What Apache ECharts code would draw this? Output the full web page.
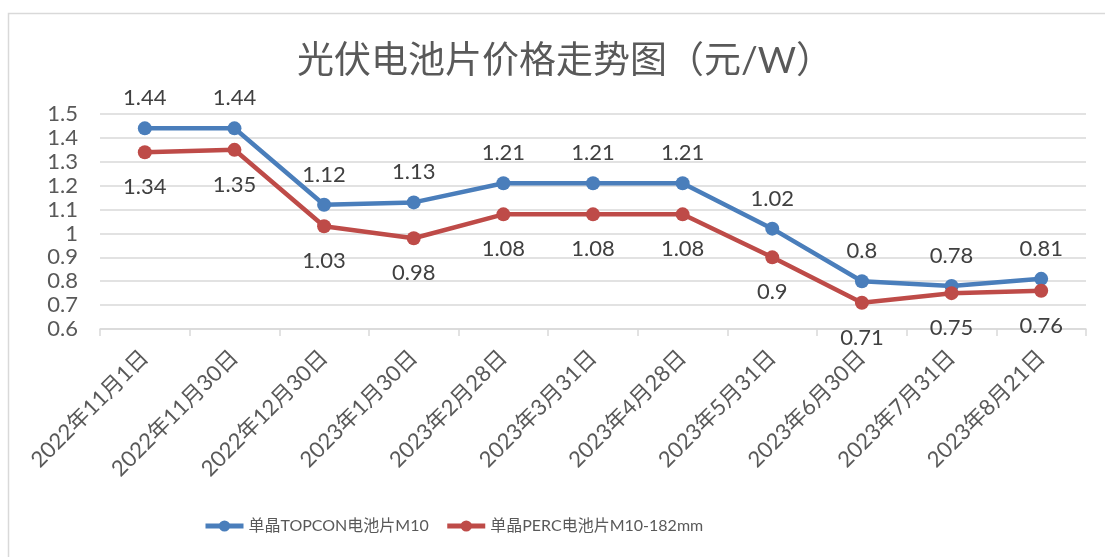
<!DOCTYPE html>
<html>
<head>
<meta charset="utf-8">
<script src="https://cdn.jsdelivr.net/npm/echarts@6/dist/echarts.min.js"></script>
<style>
    html, body {
        margin: 0;
        padding: 0;
        background: #ffffff;
    }

    #chart {
        width: 1105px;
        height: 557px;
    }
</style>
</head>
<body>
<div id="chart"></div>
<script>
const categories = ['2022年11月1日', '2022年11月30日', '2022年12月30日', '2023年1月30日', '2023年2月28日',
    '2023年3月31日', '2023年4月28日', '2023年5月31日', '2023年6月30日', '2023年7月31日', '2023年8月21日'];
const topconValues = [1.44, 1.44, 1.12, 1.13, 1.21, 1.21, 1.21, 1.02, 0.8, 0.78, 0.81];
const percValues = [1.34, 1.35, 1.03, 0.98, 1.08, 1.08, 1.08, 0.9, 0.71, 0.75, 0.76];
const yMin = 0.6;
const yMax = 1.5;
const yStep = 0.1;

const font = "Lato, 'Noto Sans CJK SC', sans-serif";
const chart = echarts.init(document.getElementById('chart'));

const makeSeries = (name, data, color, pos, dist) => ({
    name: name,
    type: 'line',
    data: data,
    symbol: 'circle',
    symbolSize: 14,
    lineStyle: { color: color, width: 4.5 },
    itemStyle: { color: color },
    label: {
        show: true,
        position: pos,
        distance: dist,
        color: '#404040',
        fontSize: 22,
        fontFamily: font
    },
    emphasis: { disabled: true }
});

chart.setOption({
    animation: false,
    textStyle: { fontFamily: font },
    graphic: [{
        type: 'rect',
        shape: { x: 8.5, y: 13.5, width: 1200, height: 700 },
        style: { fill: 'none', stroke: '#d9d9d9', lineWidth: 1.5 },
        silent: true
    }],
    title: {
        text: '光伏电池片价格走势图（元/W）',
        left: 292,
        top: 38,
        textStyle: {
            color: '#595959',
            fontSize: 37,
            fontWeight: 'normal',
            fontFamily: font
        }
    },
    legend: {
        top: 513,
        left: 198,
        itemGap: 16,
        itemWidth: 38,
        itemHeight: 14,
        lineStyle: { width: 5 },
        textStyle: { color: '#595959', fontSize: 16, fontFamily: font }
    },
    grid: {
        top: 114,
        left: 100,
        right: 19,
        bottom: 228
    },
    xAxis: {
        type: 'category',
        data: categories,
        axisLine: { lineStyle: { color: '#d9d9d9', width: 1.5 } },
        axisTick: { show: true, length: 7, lineStyle: { color: '#d9d9d9', width: 1.5 } },
        axisLabel: {
            rotate: 45,
            interval: 0,
            color: '#595959',
            fontSize: 22,
            margin: 25
        }
    },
    yAxis: {
        type: 'value',
        min: yMin,
        max: yMax,
        interval: yStep,
        axisLine: { show: false },
        axisTick: { show: false },
        splitLine: { lineStyle: { color: '#d9d9d9', width: 1.5 } },
        axisLabel: {
            color: '#595959',
            fontSize: 22,
            margin: 22,
            formatter: v => String(+v.toFixed(1))
        }
    },
    series: [
        makeSeries('单晶TOPCON电池片M10', topconValues, '#4a7ebb', 'top', 12),
        makeSeries('单晶PERC电池片M10-182mm', percValues, '#be4b48', 'bottom', 17)
    ]
});
</script>
</body>
</html>
